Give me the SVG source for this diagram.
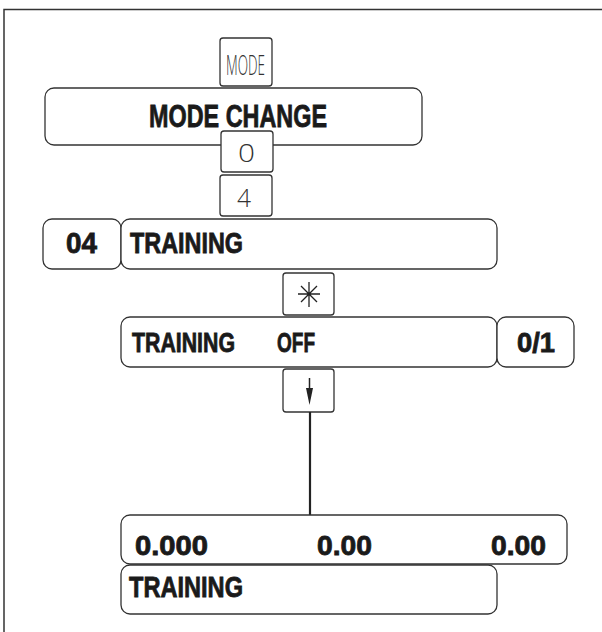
<svg xmlns="http://www.w3.org/2000/svg" width="602" height="632" viewBox="0 0 602 632">
<style>
.box{fill:#fff;stroke:#333;stroke-width:1.3}
.b{font-family:"Liberation Sans",Arial,sans-serif;font-weight:bold;fill:#1a1a1a;stroke:#1a1a1a;stroke-width:0.8}
.k{font-family:"Open Sans","Liberation Sans",sans-serif;font-weight:300;fill:#333}
.ln{stroke:#222;stroke-width:2.2;fill:none}
</style>
<rect width="602" height="632" fill="#fff"/>
<path d="M4,632 V9.5 H602" fill="none" stroke="#333" stroke-width="1.5"/>
<g id="key-mode">
<rect class="box" x="220" y="38" width="52" height="48" rx="3"/>
<text class="k" x="226" y="75" font-size="28" textLength="39" lengthAdjust="spacingAndGlyphs">MODE</text>
</g>
<g id="mode-change">
<rect class="box" x="45" y="88" width="377" height="57" rx="9"/>
<text class="b" x="149" y="127" font-size="32" textLength="178" lengthAdjust="spacingAndGlyphs">MODE CHANGE</text>
</g>
<g id="key-0">
<rect class="box" x="221" y="131" width="52" height="41" rx="3"/>
<text class="k" x="238" y="162" font-size="26" textLength="17" lengthAdjust="spacingAndGlyphs">0</text>
</g>
<g id="key-4">
<rect class="box" x="220" y="175" width="52" height="41" rx="3"/>
<text class="k" x="237" y="207" font-size="26" textLength="14" lengthAdjust="spacingAndGlyphs">4</text>
</g>
<g id="code-04">
<rect class="box" x="43" y="219" width="78" height="50" rx="9"/>
<text class="b" x="66" y="253" font-size="29" textLength="31" lengthAdjust="spacingAndGlyphs">04</text>
</g>
<g id="training-menu">
<rect class="box" x="121" y="219" width="376" height="50" rx="9"/>
<text class="b" x="130" y="253" font-size="29" textLength="113" lengthAdjust="spacingAndGlyphs">TRAINING</text>
</g>
<g id="key-star">
<rect class="box" x="283" y="273" width="51" height="42" rx="3"/>
<path d="M309,282 V307 M298,294 H320 M301,286 L317,302 M317,286 L301,302" stroke="#222" stroke-width="1.3" fill="none"/>
</g>
<g id="training-off">
<rect class="box" x="121" y="317" width="376" height="50" rx="9"/>
<text class="b" x="132" y="352" font-size="27" textLength="103" lengthAdjust="spacingAndGlyphs">TRAINING</text>
<text class="b" x="277" y="352" font-size="27" textLength="38" lengthAdjust="spacingAndGlyphs">OFF</text>
</g>
<g id="value-01">
<rect class="box" x="497" y="317" width="77" height="50" rx="9"/>
<text class="b" x="517" y="352" font-size="27" textLength="38" lengthAdjust="spacingAndGlyphs">0/1</text>
</g>
<g id="key-down">
<rect class="box" x="283" y="369" width="51" height="43" rx="3"/>
<path d="M309.5,378 V390" stroke="#222" stroke-width="1.5"/>
<path d="M306,388 L313,388 L309.5,405 Z" fill="#222"/>
</g>
<g id="connectors">
<path class="ln" d="M310,412 V515"/>
</g>
<g id="display-values">
<rect class="box" x="121" y="515" width="446" height="49" rx="9"/>
<text class="b" x="135" y="555" font-size="27" textLength="73" lengthAdjust="spacingAndGlyphs">0.000</text>
<text class="b" x="317" y="555" font-size="27" textLength="55" lengthAdjust="spacingAndGlyphs">0.00</text>
<text class="b" x="491" y="555" font-size="27" textLength="55" lengthAdjust="spacingAndGlyphs">0.00</text>
</g>
<g id="display-training">
<rect class="box" x="121" y="565" width="376" height="49" rx="9"/>
<text class="b" x="129" y="597" font-size="29" textLength="114" lengthAdjust="spacingAndGlyphs">TRAINING</text>
</g>
</svg>
